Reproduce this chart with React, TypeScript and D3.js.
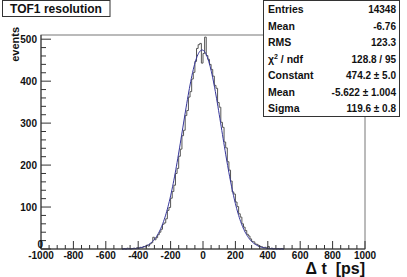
import React from "react";
import * as d3 from "d3";

// histogram: 10 ps bins, lower edges from -500 to 490
const binLow = -500;
const binWidth = 10;
const counts = [
  0, 1, 0, 2, 1, 0, 1, 2, 1, 3,
  2, 4, 3, 6, 5, 9, 7, 12, 15, 28,
  22, 27, 34, 40, 47, 59, 62, 72, 92, 99,
  121, 137, 152, 180, 192, 221, 238, 270, 283, 318,
  330, 362, 375, 405, 421, 447, 478, 487, 490, 443,
  466, 505, 461, 452, 440, 428, 412, 390, 383, 349,
  338, 302, 290, 255, 241, 208, 188, 162, 136, 131,
  112, 101, 84, 76, 60, 52, 44, 35, 31, 24,
  18, 17, 12, 11, 7, 6, 5, 3, 4, 2,
  6, 1, 2, 0, 1, 0, 1, 0, 1, 0,
];

// gaussian fit result
const fitConstant = 474.2;
const fitMean = -5.622;
const fitSigma = 119.6;

const xTicks = [-1000, -800, -600, -400, -200, 0, 200, 400, 600, 800, 1000];
const yTicks = [0, 100, 200, 300, 400, 500];

const statLabels = ["Entries", "Mean", "RMS", "chi2", "Constant", "Mean", "Sigma"];
const statValues = ["14348", "-6.76", "123.3", "128.8 / 95", "474.2 \u00b1 5.0", "-5.622 \u00b1 1.004", "119.6 \u00b1 0.8"];

export default function App() {
  const width = 407;
  const height = 277;
  const left = 41, right = 365, top = 35, bottom = 249;

  const x = d3.scaleLinear().domain([-1000, 1000]).range([left, right]);
  const y = d3.scaleLinear().domain([0, 510]).range([bottom, top]);

  // step outline of the histogram
  const pts: [number, number][] = [[x(binLow), y(0)]];
  counts.forEach((c, i) => {
    const lo = binLow + i * binWidth;
    pts.push([x(lo), y(c)]);
    pts.push([x(lo + binWidth), y(c)]);
  });
  pts.push([x(binLow + counts.length * binWidth), y(0)]);
  const histPath = d3.line()(pts);

  const gaus = (t: number) =>
    fitConstant * Math.exp(-((t - fitMean) ** 2) / (2 * fitSigma * fitSigma));
  const fitPath = d3
    .line<number>()
    .x((t) => x(t))
    .y((t) => y(gaus(t)))(d3.range(-500, 501, 4));

  const xMinor = d3.range(-1000, 1001, 50).filter((v) => v % 200 !== 0);
  const yMinor = d3.range(0, 511, 20).filter((v) => v % 100 !== 0);

  const font = "'Liberation Sans', Arial, sans-serif";
  const axisCol = "#333";

  return (
    <svg
      width={width}
      height={height}
      style={{ position: "absolute", left: 0, top: 0, background: "#fff" }}
      fontFamily={font}
      fontWeight="bold"
    >
      <rect x={0} y={0} width={width} height={height} fill="#fff" />

      {/* frame */}
      <rect x={left} y={top} width={right - left} height={bottom - top} fill="none" stroke="#777" strokeWidth={1} />

      {/* histogram and fit */}
      <path d={histPath ?? ""} fill="none" stroke="#555" strokeWidth={1} />
      <path d={fitPath ?? ""} fill="none" stroke="#35359a" strokeWidth={1} />

      {/* x axis */}
      <line x1={left} x2={right} y1={bottom} y2={bottom} stroke={axisCol} />
      {xTicks.map((t) => (
        <line key={"xt" + t} x1={x(t)} x2={x(t)} y1={bottom} y2={bottom - 8} stroke={axisCol} />
      ))}
      {xMinor.map((t) => (
        <line key={"xm" + t} x1={x(t)} x2={x(t)} y1={bottom} y2={bottom - 4} stroke={axisCol} />
      ))}
      {xTicks.map((t) => (
        <text key={"xl" + t} x={x(t)} y={259} fontSize={10} textAnchor="middle" fill="#111">
          {t}
        </text>
      ))}
      <text x={right} y={274} fontSize={16} textAnchor="end" fill="#111" style={{ whiteSpace: "pre" }}>
        {"\u0394 t  [ps]"}
      </text>

      {/* y axis */}
      <line x1={left} x2={left} y1={bottom} y2={top} stroke={axisCol} />
      {yTicks.map((t) => (
        <line key={"yt" + t} x1={left} x2={left + 10} y1={y(t)} y2={y(t)} stroke={axisCol} />
      ))}
      {yMinor.map((t) => (
        <line key={"ym" + t} x1={left} x2={left + 5} y1={y(t)} y2={y(t)} stroke={axisCol} />
      ))}
      {yTicks.map((t) =>
        t === 0 ? (
          <text key={"yl" + t} x={43} y={248} fontSize={10} textAnchor="end" fill="#111">
            0
          </text>
        ) : (
          <text key={"yl" + t} x={37} y={y(t) + 4} fontSize={10} textAnchor="end" fill="#111">
            {t}
          </text>
        )
      )}
      <text transform="translate(19,27) rotate(-90)" fontSize={11} textAnchor="end" fill="#111">
        events
      </text>

      {/* title */}
      <rect x={2.5} y={0.5} width={107.5} height={16} fill="#fff" stroke="#333" />
      <text x={56} y={13} fontSize={12} textAnchor="middle" fill="#111">
        TOF1 resolution
      </text>

      {/* stats box */}
      <rect x={263.5} y={0.5} width={136} height={116} fill="#fff" stroke="#333" />
      {statLabels.map((lab, i) => {
        const by = 13 + i * 16.5;
        return (
          <g key={"st" + i}>
            <text x={268} y={by} fontSize={10.5} fill="#111">
              {lab === "chi2" ? (
                <>
                  {"\u03c7"}
                  <tspan fontSize={7} dy={-4}>2</tspan>
                  <tspan dy={4}>{" / ndf"}</tspan>
                </>
              ) : (
                lab
              )}
            </text>
            <text x={396} y={by} fontSize={10} textAnchor="end" fill="#111">
              {statValues[i]}
            </text>
          </g>
        );
      })}
    </svg>
  );
}
